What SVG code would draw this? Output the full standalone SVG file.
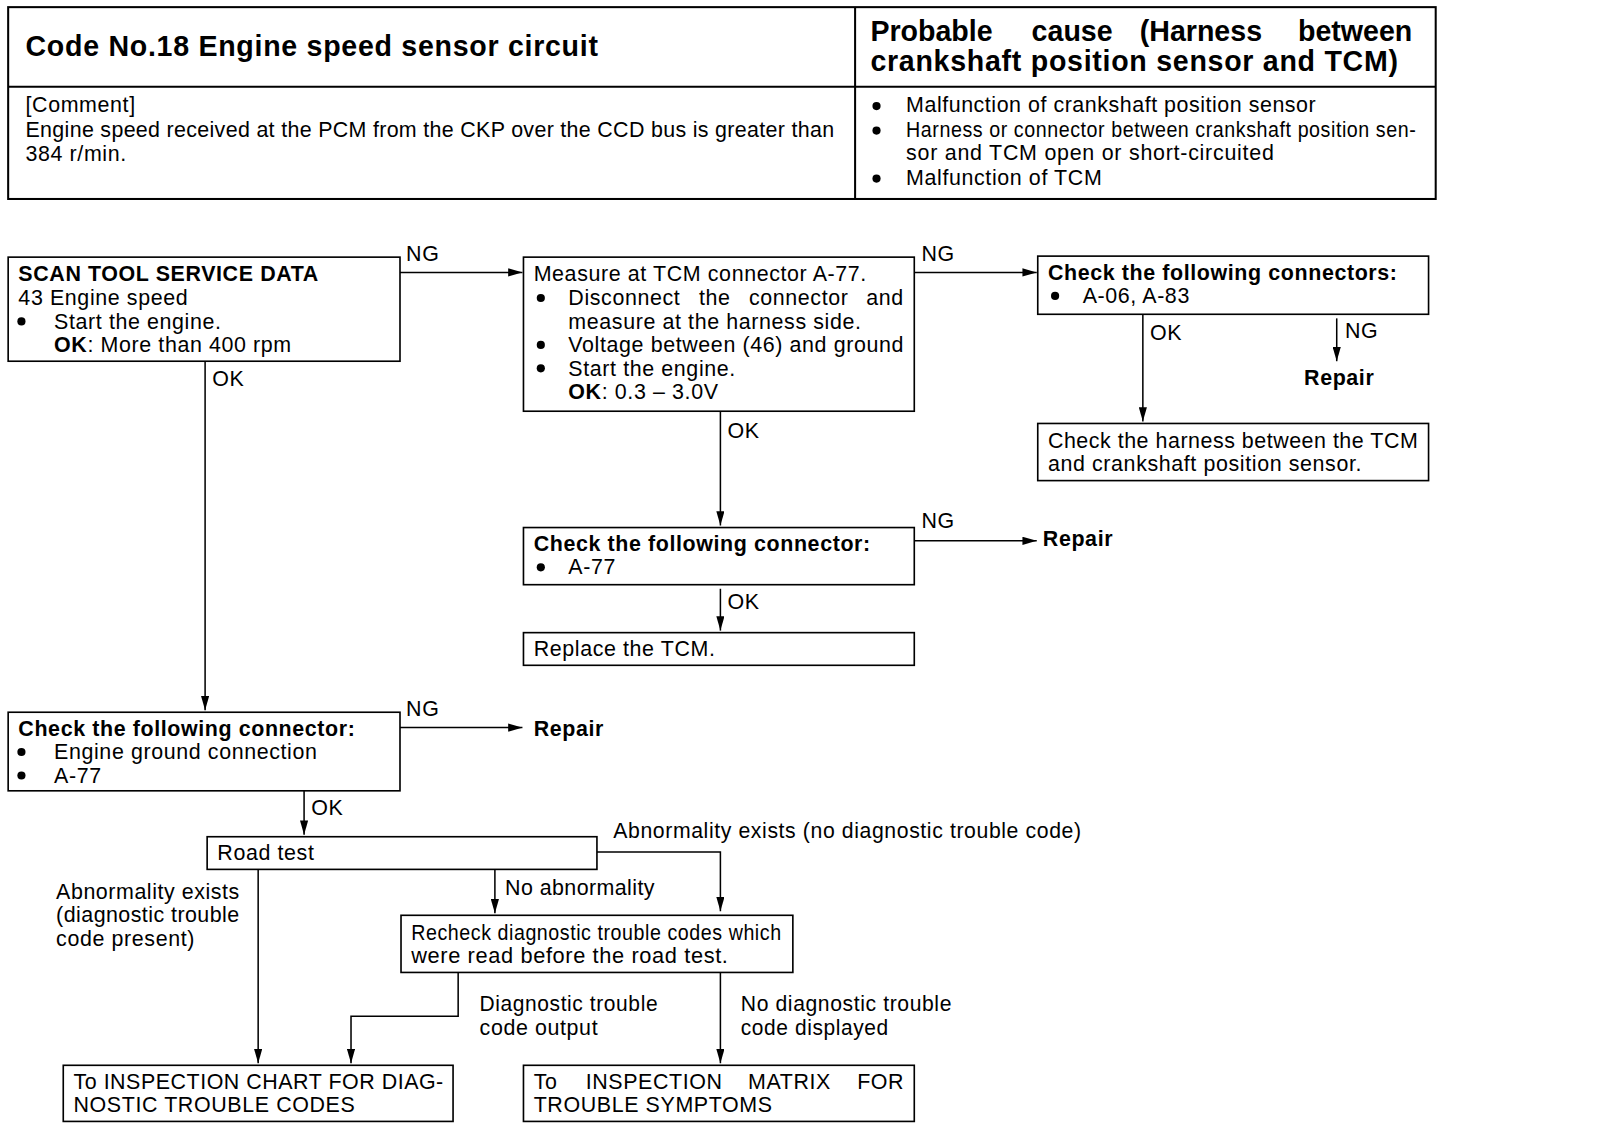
<svg xmlns="http://www.w3.org/2000/svg" width="1600" height="1130" viewBox="0 0 1600 1130">
<defs>
<marker id="ah" viewBox="0 0 14 8" refX="14" refY="4" markerWidth="14" markerHeight="8" markerUnits="userSpaceOnUse" orient="auto">
<path d="M0,0 L14,4 L0,8 Z" fill="#000"/>
</marker>
<style>
text{font-family:"Liberation Sans",Arial,Helvetica,sans-serif;fill:#000;font-size:21px;letter-spacing:0.6px}
.b{font-weight:bold}
.h{font-size:28px;font-weight:bold;letter-spacing:0.7px}
.hr{font-size:28px;font-weight:bold;letter-spacing:0}
.box{fill:#fff;stroke:#000;stroke-width:1.6}
.tb{fill:none;stroke:#000;stroke-width:2}
.ar{fill:none;stroke:#000;stroke-width:1.5;marker-end:url(#ah)}
</style>
</defs>
<rect width="1600" height="1130" fill="#fff"/>
<g transform="scale(1.0204)">

<g id="header">
<rect class="tb" x="8" y="7" width="1399" height="188"/>
<line class="tb" x1="838" y1="7" x2="838" y2="195"/>
<line class="tb" x1="8" y1="85" x2="1407" y2="85"/>
<text class="h" x="25" y="55">Code No.18 Engine speed sensor circuit</text>
<text class="hr" y="40"><tspan x="853">Probable</tspan> <tspan x="1011">cause</tspan> <tspan x="1117">(Harness</tspan> <tspan x="1272">between</tspan></text>
<text class="hr" x="853" y="70" textLength="517" lengthAdjust="spacing">crankshaft position sensor and TCM)</text>
<text x="25" y="110">[Comment]</text>
<text x="25" y="134" textLength="793" lengthAdjust="spacing">Engine speed received at the PCM from the CKP over the CCD bus is greater than</text>
<text x="25" y="158">384 r/min.</text>
<circle cx="859" cy="104" r="4"/>
<circle cx="859" cy="128" r="4"/>
<circle cx="859" cy="175" r="4"/>
<text x="888" y="110" textLength="402" lengthAdjust="spacing">Malfunction of crankshaft position sensor</text>
<text x="888" y="134" textLength="500" lengthAdjust="spacingAndGlyphs">Harness or connector between crankshaft position sen-</text>
<text x="888" y="157" textLength="361" lengthAdjust="spacing">sor and TCM open or short-circuited</text>
<text x="888" y="181">Malfunction of TCM</text>
</g>

<g id="connectors">
<line class="ar" x1="392" y1="267" x2="512" y2="267"/>
<text x="398" y="256">NG</text>
<line class="ar" x1="201" y1="354" x2="201" y2="696"/>
<text x="208" y="378">OK</text>
<line class="ar" x1="896" y1="267" x2="1016" y2="267"/>
<text x="903" y="256">NG</text>
<line class="ar" x1="706" y1="403" x2="706" y2="515"/>
<text x="713" y="429">OK</text>
<line class="ar" x1="1120" y1="308" x2="1120" y2="413"/>
<text x="1127" y="333">OK</text>
<line class="ar" x1="1310" y1="312" x2="1310" y2="354"/>
<text x="1318" y="331">NG</text>
<text class="b" x="1278" y="377">Repair</text>
<line class="ar" x1="896" y1="530" x2="1016" y2="530"/>
<text x="903" y="517">NG</text>
<text class="b" x="1022" y="535">Repair</text>
<line class="ar" x1="706" y1="577" x2="706" y2="618"/>
<text x="713" y="597">OK</text>
<line class="ar" x1="392" y1="713" x2="512" y2="713"/>
<text x="398" y="702">NG</text>
<text class="b" x="523" y="721">Repair</text>
<line class="ar" x1="298" y1="775" x2="298" y2="818"/>
<text x="305" y="799">OK</text>
<polyline class="ar" points="585,835 706,835 706,893"/>
<text x="601" y="821" textLength="459" lengthAdjust="spacingAndGlyphs">Abnormality exists (no diagnostic trouble code)</text>
<line class="ar" x1="253" y1="852" x2="253" y2="1042"/>
<text x="55" y="881" textLength="180" lengthAdjust="spacing">Abnormality exists</text>
<text x="55" y="904" textLength="180" lengthAdjust="spacing">(diagnostic trouble</text>
<text x="55" y="927">code present)</text>
<line class="ar" x1="485" y1="852" x2="485" y2="895"/>
<text x="495" y="877" textLength="147" lengthAdjust="spacing">No abnormality</text>
<polyline class="ar" points="449,953 449,996 344,996 344,1042"/>
<text x="470" y="991" textLength="175" lengthAdjust="spacingAndGlyphs">Diagnostic trouble</text>
<text x="470" y="1014">code output</text>
<line class="ar" x1="706" y1="953" x2="706" y2="1042"/>
<text x="726" y="991" textLength="207" lengthAdjust="spacingAndGlyphs">No diagnostic trouble</text>
<text x="726" y="1014" textLength="145" lengthAdjust="spacingAndGlyphs">code displayed</text>
</g>

<g id="n-scan">
<rect class="box" x="8" y="252" width="384" height="102"/>
<text class="b" x="18" y="275">SCAN TOOL SERVICE DATA</text>
<text x="18" y="299">43 Engine speed</text>
<circle cx="21" cy="315" r="4"/>
<text x="53" y="322">Start the engine.</text>
<text x="53" y="345"><tspan class="b">OK</tspan>: More than 400 rpm</text>
</g>

<g id="n-measure">
<rect class="box" x="513" y="252" width="383" height="151"/>
<text x="523" y="275">Measure at TCM connector A-77.</text>
<circle cx="530" cy="292" r="4"/>
<text y="299"><tspan x="557">Disconnect</tspan> <tspan x="685">the</tspan> <tspan x="734">connector</tspan> <tspan x="849">and</tspan></text>
<text x="557" y="322">measure at the harness side.</text>
<circle cx="530" cy="338" r="4"/>
<text x="557" y="345" textLength="329" lengthAdjust="spacing">Voltage between (46) and ground</text>
<circle cx="530" cy="361" r="4"/>
<text x="557" y="368">Start the engine.</text>
<text x="557" y="391"><tspan class="b">OK</tspan>: 0.3 – 3.0V</text>
</g>

<g id="n-check-a06">
<rect class="box" x="1017" y="251" width="383" height="57"/>
<text class="b" x="1027" y="274">Check the following connectors:</text>
<circle cx="1034" cy="290" r="4"/>
<text x="1061" y="297">A-06, A-83</text>
</g>

<g id="n-harness">
<rect class="box" x="1017" y="415" width="383" height="56"/>
<text x="1027" y="439" textLength="363" lengthAdjust="spacing">Check the harness between the TCM</text>
<text x="1027" y="462">and crankshaft position sensor.</text>
</g>

<g id="n-check-a77">
<rect class="box" x="513" y="517" width="383" height="56"/>
<text class="b" x="523" y="540">Check the following connector:</text>
<circle cx="530" cy="556" r="4"/>
<text x="557" y="563">A-77</text>
</g>

<g id="n-replace">
<rect class="box" x="513" y="620" width="383" height="32"/>
<text x="523" y="643">Replace the TCM.</text>
</g>

<g id="n-check-ground">
<rect class="box" x="8" y="698" width="384" height="77"/>
<text class="b" x="18" y="721">Check the following connector:</text>
<circle cx="21" cy="737" r="4"/>
<text x="53" y="744">Engine ground connection</text>
<circle cx="21" cy="760" r="4"/>
<text x="53" y="767">A-77</text>
</g>

<g id="n-road">
<rect class="box" x="203" y="820" width="382" height="32"/>
<text x="213" y="843">Road test</text>
</g>

<g id="n-recheck">
<rect class="box" x="393" y="897" width="384" height="56"/>
<text x="403" y="921" textLength="363" lengthAdjust="spacingAndGlyphs">Recheck diagnostic trouble codes which</text>
<text x="403" y="944" textLength="311" lengthAdjust="spacingAndGlyphs">were read before the road test.</text>
</g>

<g id="n-chart">
<rect class="box" x="62" y="1044" width="382" height="55"/>
<text x="72" y="1067" textLength="363" lengthAdjust="spacing">To INSPECTION CHART FOR DIAG-</text>
<text x="72" y="1090">NOSTIC TROUBLE CODES</text>
</g>

<g id="n-matrix">
<rect class="box" x="513" y="1044" width="383" height="55"/>
<text y="1067"><tspan x="523">To</tspan> <tspan x="574">INSPECTION</tspan> <tspan x="733">MATRIX</tspan> <tspan x="840">FOR</tspan></text>
<text x="523" y="1090">TROUBLE SYMPTOMS</text>
</g>
</g>
</svg>
